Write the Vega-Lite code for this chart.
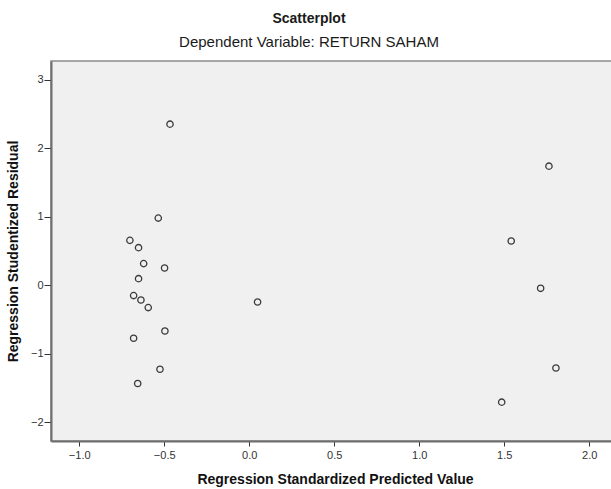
{
  "$schema": "https://vega.github.io/schema/vega-lite/v6.json",
  "autosize": {"type": "none"},
  "padding": {"left": 51, "top": 61, "right": 0, "bottom": 48},
  "width": 568,
  "height": 380,
  "background": "white",
  "title": {
    "text": "Scatterplot",
    "subtitle": "Dependent Variable: RETURN SAHAM",
    "anchor": "middle",
    "dx": -26,
    "offset": 11,
    "font": "Liberation Sans",
    "fontSize": 14,
    "fontWeight": "bold",
    "color": "#1a1a1a",
    "subtitleFont": "Liberation Sans",
    "subtitleFontSize": 15,
    "subtitleColor": "#1a1a1a",
    "subtitlePadding": 9
  },
  "config": {
    "view": {"fill": "#f0f0f0", "stroke": "#8a8a8a", "strokeWidth": 1.5},
    "axis": {
      "grid": false,
      "domainColor": "#6e6e6e",
      "domainWidth": 2,
      "tickColor": "#333333",
      "tickWidth": 1,
      "labelFont": "Liberation Sans",
      "labelFontSize": 11,
      "labelColor": "#333333",
      "titleFont": "Liberation Sans",
      "titleFontSize": 14,
      "titleFontWeight": "bold",
      "titleColor": "#111111"
    }
  },
  "data": {
    "values": [
      {"pred": -0.466, "resid": 2.349},
      {"pred": -0.535, "resid": 0.980},
      {"pred": -0.702, "resid": 0.655},
      {"pred": -0.651, "resid": 0.549},
      {"pred": -0.621, "resid": 0.316},
      {"pred": -0.498, "resid": 0.252},
      {"pred": -0.651, "resid": 0.097},
      {"pred": -0.680, "resid": -0.150},
      {"pred": -0.637, "resid": -0.214},
      {"pred": -0.594, "resid": -0.325},
      {"pred": 0.049, "resid": -0.244},
      {"pred": -0.496, "resid": -0.666},
      {"pred": -0.680, "resid": -0.772},
      {"pred": -0.525, "resid": -1.224},
      {"pred": -0.656, "resid": -1.432},
      {"pred": 1.763, "resid": 1.737},
      {"pred": 1.541, "resid": 0.645},
      {"pred": 1.714, "resid": -0.044},
      {"pred": 1.804, "resid": -1.205},
      {"pred": 1.485, "resid": -1.704}
    ]
  },
  "mark": {"type": "point", "shape": "circle", "filled": false, "size": 40, "stroke": "#3a3a3a", "strokeWidth": 1.3, "opacity": 1},
  "encoding": {
    "x": {
      "field": "pred",
      "type": "quantitative",
      "scale": {"domain": [-1.166, 2.175], "nice": false, "zero": false},
      "axis": {
        "title": "Regression Standardized Predicted Value",
        "values": [-1.0, -0.5, 0.0, 0.5, 1.0, 1.5, 2.0],
        "format": ".1f",
        "tickSize": 5,
        "labelPadding": 3,
        "titlePadding": 12
      }
    },
    "y": {
      "field": "resid",
      "type": "quantitative",
      "scale": {"domain": [-2.27, 3.27], "nice": false, "zero": false},
      "axis": {
        "title": "Regression Studentized Residual",
        "values": [-2, -1, 0, 1, 2, 3],
        "format": "d",
        "tickSize": 7,
        "labelPadding": 1,
        "titlePadding": 10
      }
    }
  }
}
